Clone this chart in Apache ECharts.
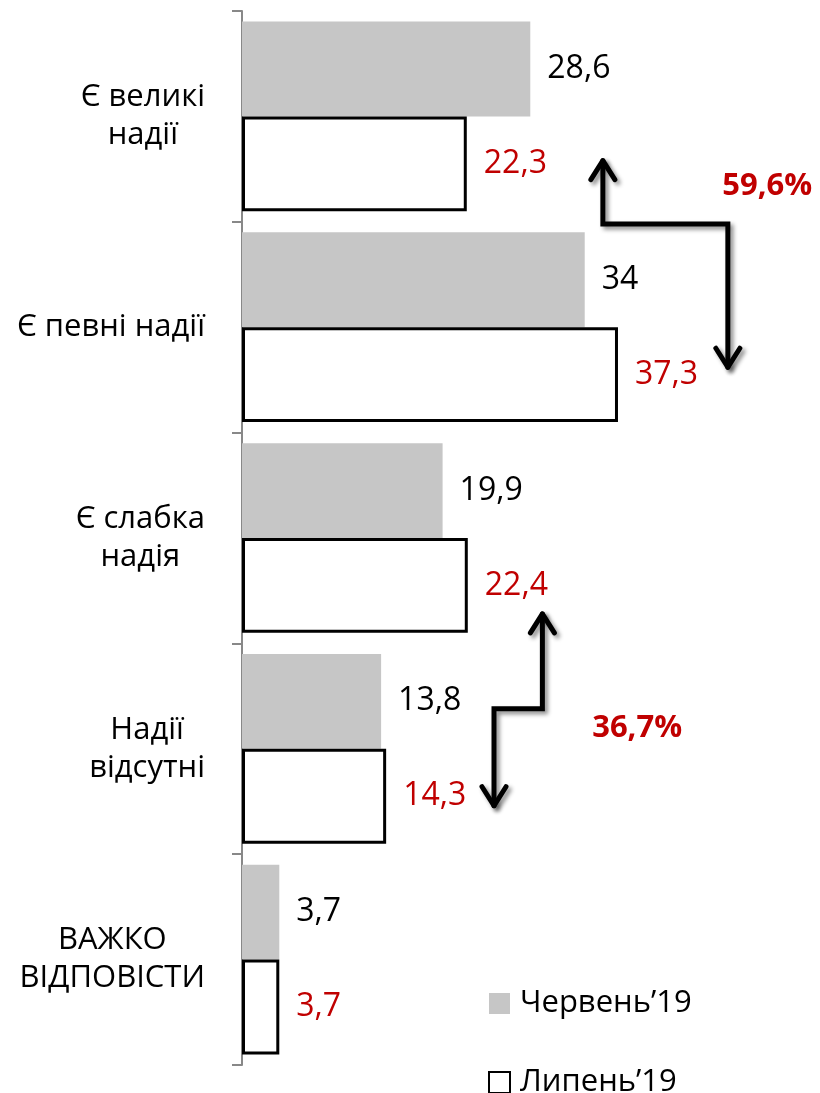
<!DOCTYPE html>
<html>
<head>
<meta charset="utf-8">
<script src="https://cdn.jsdelivr.net/npm/echarts@6/dist/echarts.min.js"></script>
<style>
  html, body { margin: 0; padding: 0; background: #fff; }
  #chart { width: 820px; height: 1093px; }
</style>
</head>
<body>
<div id="chart"></div>
<script>
const FONT = "'Open Sans', 'Noto Sans', sans-serif";

const categories = ["Є великі\nнадії", "Є певні надії", "Є слабка\nнадія", "Надії\nвідсутні", "ВАЖКО\nВІДПОВІСТИ"];
const seriesNames = ["Червень’19", "Липень’19"];
const juneValues = [28.6, 34, 19.9, 13.8, 3.7];
const julyValues = [22.3, 37.3, 22.4, 14.3, 3.7];

// annotation arrows: points as [value, category position]
const arrowUpper = [[35.8, 0.21], [35.8, 0.51], [48.2, 0.51], [48.2, 1.19]];
const arrowLower = [[29.8, 2.36], [29.8, 2.81], [25.0, 2.81], [25.0, 3.27]];
const shareLabels = [
  { text: "59,6%", at: [52.1, 0.33] },
  { text: "36,7%", at: [39.2, 2.90] },
];

const chart = echarts.init(document.getElementById("chart"));

const fmtNum = v => String(v).replace(".", ",");

chart.setOption({
  animation: false,
  textStyle: { fontFamily: FONT },
  grid: { left: 242, right: 74, top: 11, bottom: 28, containLabel: false },
  legend: {
    orient: "vertical",
    left: 488,
    top: 988,
    height: 110,
    itemWidth: 21,
    itemHeight: 21,
    itemGap: 48,
    padding: 0,
    icon: "rect",
    textStyle: { fontSize: 31, color: "#000", fontFamily: FONT, padding: [0, 0, 0, 5] },
    data: seriesNames,
  },
  xAxis: {
    type: "value",
    min: 0,
    max: 50,
    show: false,
  },
  yAxis: {
    type: "category",
    inverse: true,
    data: categories,
    axisLine: { lineStyle: { color: "#888", width: 2 } },
    axisTick: { show: true, length: 10, lineStyle: { color: "#888", width: 2 } },
    axisLabel: {
      margin: 37,
      align: "right",
      color: "#000",
      fontSize: 31,
      lineHeight: 38,
      formatter: v => v.split("\n").map(l => `{c|${l}}`).join("\n"),
      rich: { c: { align: "center", fontSize: 31, lineHeight: 38, color: "#000", fontFamily: FONT } },
    },
  },
  series: [
    {
      name: seriesNames[0],
      type: "bar",
      data: juneValues,
      barGap: "0%",
      barCategoryGap: "10%",
      itemStyle: { color: "#c6c6c6" },
      label: {
        show: true,
        position: "right",
        distance: 17,
        fontSize: 32,
        color: "#000",
        fontFamily: FONT,
        formatter: p => fmtNum(p.value),
      },
    },
    {
      name: seriesNames[1],
      type: "bar",
      data: julyValues,
      barGap: "0%",
      barCategoryGap: "10%",
      itemStyle: { color: "#fff", borderColor: "#000", borderWidth: 3 },
      label: {
        show: true,
        position: "right",
        distance: 17,
        fontSize: 32,
        color: "#c00000",
        fontFamily: FONT,
        formatter: p => fmtNum(p.value),
      },
    },
  ],
});

function toPx(pt) {
  const a = chart.convertToPixel({ gridIndex: 0 }, [pt[0], 0]);
  const b = chart.convertToPixel({ gridIndex: 0 }, [pt[0], 1]);
  return [a[0], a[1] + (b[1] - a[1]) * pt[1]];
}

const shadow = { shadowBlur: 4, shadowOffsetX: 3, shadowOffsetY: 3, shadowColor: "rgba(0,0,0,0.45)" };

function arrowElements(points) {
  const px = points.map(toPx);
  const lineStyle = Object.assign({ stroke: "#000", lineWidth: 5, fill: null, lineJoin: "miter", lineCap: "round" }, shadow);
  const head = (tip, dir) => ({
    type: "polyline",
    shape: { points: [[tip[0] - 12, tip[1] + 19 * dir], tip, [tip[0] + 12, tip[1] + 19 * dir]] },
    style: Object.assign({}, lineStyle, { lineJoin: "round" }),
  });
  const first = px[0], last = px[px.length - 1];
  return [
    { type: "polyline", shape: { points: px }, style: lineStyle },
    head(first, 1),
    head(last, -1),
  ];
}

const graphics = [].concat(arrowElements(arrowUpper), arrowElements(arrowLower));
shareLabels.forEach(s => {
  const p = toPx(s.at);
  graphics.push({
    type: "text",
    x: p[0],
    y: p[1],
    style: {
      text: s.text,
      fill: "#c00000",
      font: `bold 31px ${FONT}`,
      align: "center",
      verticalAlign: "middle",
    },
  });
});

chart.setOption({ graphic: graphics });
</script>
</body>
</html>
